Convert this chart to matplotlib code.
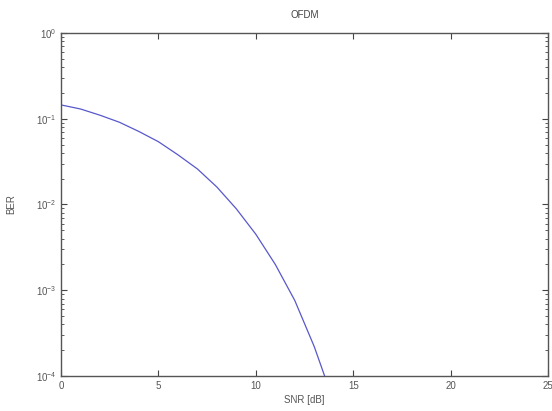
import numpy as np
import matplotlib
matplotlib.use("Agg")
import matplotlib.pyplot as plt

snr_db = [0, 1, 2, 3, 4, 5, 6, 7, 8, 9, 10, 11, 12, 13, 14]
ber = [0.145, 0.13, 0.11, 0.091, 0.071, 0.054, 0.038, 0.026, 0.016,
       0.0089, 0.0045, 0.0020, 7.6e-4, 2.2e-4, 5e-5]

plt.rcParams['font.family'] = ['Liberation Sans', 'DejaVu Sans']
fig = plt.figure(figsize=(5.52, 4.11), dpi=100)
ax = fig.add_axes([0.1105, 0.0852, 0.8823, 0.8345])

ax.semilogy(snr_db, ber, color="#5858cc", lw=0.9)
ax.set_xlim(0, 25)
ax.set_ylim(1e-4, 1e0)
ax.set_xticks([0, 5, 10, 15, 20, 25])
ax.tick_params(which="both", direction="in", top=True, right=True,
               labelsize=7, colors="#444444", labelcolor="#555555")
ax.tick_params(which="major", length=4)
ax.tick_params(which="minor", length=2)
for s in ax.spines.values():
    s.set_color("#555555")
    s.set_linewidth(1.0)

ax.set_title("OFDM", fontsize=7, color="#444444", pad=11)
ax.set_xlabel("SNR [dB]", fontsize=7, color="#555555", labelpad=3)
ax.set_ylabel("BER", fontsize=7, color="#555555", labelpad=14)

fig.savefig("out.png", dpi=100)
